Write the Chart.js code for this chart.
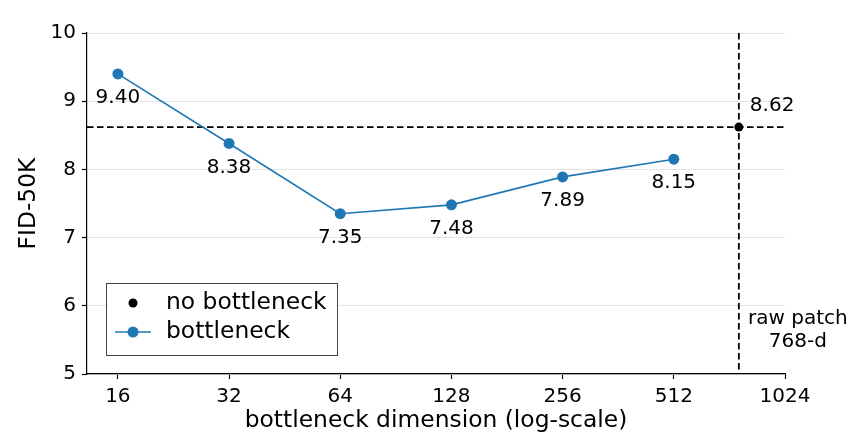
<!DOCTYPE html>
<html>
<head>
<meta charset="utf-8">
<script src="https://cdn.jsdelivr.net/npm/chart.js@4.4.0/dist/chart.umd.min.js"></script>
<style>
  html, body { margin: 0; padding: 0; background: #fff; }
  #wrap { width: 863px; height: 447px; }
</style>
</head>
<body>
<div id="wrap"><canvas id="myChart" width="863" height="447"></canvas></div>
<script>
// bottleneck dimensions and FID-50K
const dims = [16, 32, 64, 128, 256, 512];
const fids = [9.40, 8.38, 7.35, 7.48, 7.89, 8.15];
// no bottleneck (raw 768-d patch)
const rawDim = 768;
const rawFid = 8.62;
const xTicks = [16, 32, 64, 128, 256, 512, 1024];
const yTicks = [5, 6, 7, 8, 9, 10];

const FONT = "'DejaVu Sans', sans-serif";
const BLUE = '#1f77b4';

const extras = {
  id: 'extras',
  beforeDatasetsDraw(chart) {
    const { ctx, chartArea: a, scales: { x, y } } = chart;
    const px = x.getPixelForValue(rawDim), py = y.getPixelForValue(rawFid);
    ctx.save();
    ctx.strokeStyle = '#000';
    ctx.lineWidth = 1.8;
    ctx.setLineDash([6.5, 3.5]);
    ctx.beginPath();
    ctx.moveTo(a.left, py); ctx.lineTo(a.right, py);
    ctx.moveTo(px, a.top); ctx.lineTo(px, a.bottom);
    ctx.stroke();
    ctx.restore();
  },
  afterDatasetsDraw(chart) {
    const { ctx, chartArea: a, scales: { x, y } } = chart;
    ctx.save();
    ctx.fillStyle = '#000';
    ctx.font = '20px ' + FONT;
    ctx.textAlign = 'center';
    ctx.textBaseline = 'middle';
    dims.forEach((d, i) => {
      ctx.fillText(fids[i].toFixed(2), x.getPixelForValue(d), y.getPixelForValue(fids[i]) + 24);
    });
    const px = x.getPixelForValue(rawDim), py = y.getPixelForValue(rawFid);
    ctx.textAlign = 'left';
    ctx.fillText(rawFid.toFixed(2), px + 11, py - 21);
    ctx.textAlign = 'center';
    ctx.fillText('raw patch', px + 59, a.bottom - 55);
    ctx.fillText('768-d', px + 59, a.bottom - 32);

    // legend box
    const lx = a.left + 19, ly = a.bottom - 91, lw = 231, lh = 72;
    ctx.fillStyle = '#fff';
    ctx.fillRect(lx, ly, lw, lh);
    ctx.strokeStyle = '#444';
    ctx.lineWidth = 1;
    ctx.strokeRect(lx + 0.5, ly + 0.5, lw, lh);
    ctx.fillStyle = '#000';
    ctx.beginPath();
    ctx.arc(lx + 27, ly + 20, 4.5, 0, Math.PI * 2);
    ctx.fill();
    ctx.strokeStyle = BLUE;
    ctx.lineWidth = 1.6;
    ctx.beginPath();
    ctx.moveTo(lx + 9, ly + 49); ctx.lineTo(lx + 45, ly + 49);
    ctx.stroke();
    ctx.fillStyle = BLUE;
    ctx.beginPath();
    ctx.arc(lx + 27, ly + 49, 5.5, 0, Math.PI * 2);
    ctx.fill();
    ctx.fillStyle = '#000';
    ctx.font = '23.4px ' + FONT;
    ctx.textAlign = 'left';
    ctx.fillText('no bottleneck', lx + 60, ly + 20);
    ctx.fillText('bottleneck', lx + 60, ly + 49);
    ctx.restore();
  }
};

new Chart(document.getElementById('myChart').getContext('2d'), {
  data: {
    datasets: [
      {
        type: 'line',
        label: 'bottleneck',
        data: dims.map((d, i) => ({ x: d, y: fids[i] })),
        borderColor: BLUE,
        backgroundColor: BLUE,
        borderWidth: 1.6,
        pointRadius: 5.5,
        pointBorderWidth: 0,
        pointBackgroundColor: BLUE,
        tension: 0
      },
      {
        type: 'scatter',
        label: 'no bottleneck',
        data: [{ x: rawDim, y: rawFid }],
        backgroundColor: '#000',
        borderColor: '#000',
        pointRadius: 4.5,
        pointBorderWidth: 0
      }
    ]
  },
  options: {
    responsive: false,
    animation: false,
    layout: { padding: { top: 33, right: 78, left: 0, bottom: 0 } },
    plugins: { legend: { display: false }, tooltip: { enabled: false } },
    scales: {
      x: {
        type: 'logarithmic',
        min: 13.2,
        max: 1024,
        afterBuildTicks: s => { s.ticks = xTicks.map(v => ({ value: v })); },
        afterFit: s => { s.height = 73; },
        ticks: {
          autoSkip: false, maxRotation: 0, padding: 6,
          color: '#000', font: { family: FONT, size: 20 },
          callback: v => String(v)
        },
        grid: { drawOnChartArea: false, tickLength: 5, tickColor: '#000', tickWidth: 1.2 },
        border: { color: '#000', width: 1.2 },
        title: {
          display: true, text: 'bottleneck dimension (log-scale)',
          color: '#000', font: { family: FONT, size: 23.4 }, padding: { top: 0, bottom: 12 }
        }
      },
      y: {
        type: 'linear',
        min: 5,
        max: 10,
        afterBuildTicks: s => { s.ticks = yTicks.map(v => ({ value: v })); },
        afterFit: s => { s.width = 87; },
        ticks: { padding: 6, color: '#000', font: { family: FONT, size: 20 } },
        grid: { color: '#e3e3e3', lineWidth: 1, tickLength: 5, tickColor: '#000', tickWidth: 1.2 },
        border: { color: '#000', width: 1.2 },
        title: {
          display: true, text: 'FID-50K',
          color: '#000', font: { family: FONT, size: 23.4 }, padding: { top: 15, bottom: 0 }
        }
      }
    }
  },
  plugins: [extras]
});
</script>
</body>
</html>
